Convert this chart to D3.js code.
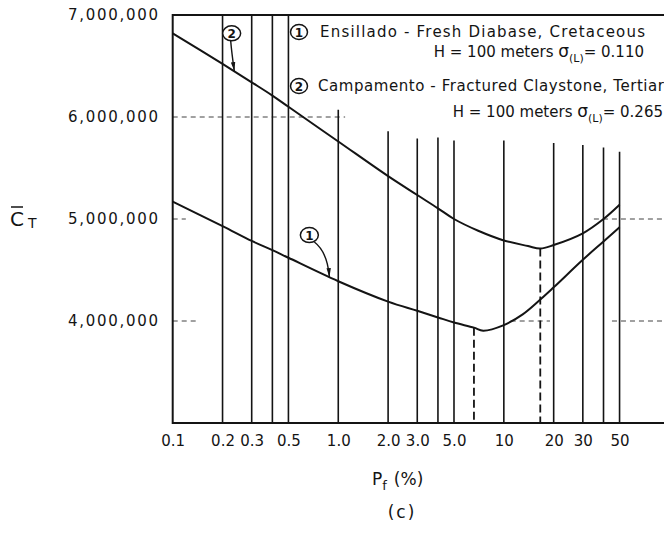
<!DOCTYPE html>
<html><head><meta charset="utf-8">
<script src="https://cdn.jsdelivr.net/npm/d3@7"></script>
<style>
html,body{margin:0;padding:0;background:#fff;}
svg{display:block;font-family:"DejaVu Sans",sans-serif;}
</style>
</head><body>
<svg id="c" width="664" height="535"></svg>
<script>
// ---- data ----
const xTicks = [0.1, 0.2, 0.3, 0.5, 1, 2, 3, 5, 10, 20, 30, 50];
const xTickLabels = ["0.1", "0.2", "0.3", "0.5", "1.0", "2.0", "3.0", "5.0", "10", "20", "30", "50"];
const yTicks = [4e6, 5e6, 6e6, 7e6];
const gridX = [0.2, 0.3, 0.4, 0.5, 1, 2, 3, 4, 5, 10, 20, 30, 40, 50];
const gridTop = [7e6, 7e6, 7e6, 7e6, 6.07e6, 5.86e6, 5.79e6, 5.80e6, 5.77e6, 5.77e6, 5.745e6, 5.725e6, 5.70e6, 5.66e6];

// Curve 1: Ensillado - Fresh Diabase
const pf1 = [0.1, 0.2, 0.3, 0.4, 0.5, 1, 2, 3, 4, 5, 6.6, 7.5, 10, 13, 16.6, 20, 30, 40, 50];
const ct1 = [5.17e6, 4.93e6, 4.785e6, 4.695e6, 4.62e6, 4.39e6, 4.19e6, 4.10e6, 4.035e6, 3.985e6, 3.935e6, 3.905e6, 3.96e6, 4.065e6, 4.21e6, 4.33e6, 4.60e6, 4.78e6, 4.92e6];
// Curve 2: Campamento - Fractured Claystone
const pf2 = [0.1, 0.2, 0.3, 0.4, 0.5, 1, 2, 3, 4, 5, 7, 10, 14, 16.6, 20, 30, 40, 50];
const ct2 = [6.82e6, 6.52e6, 6.34e6, 6.21e6, 6.10e6, 5.76e6, 5.42e6, 5.235e6, 5.105e6, 5.0e6, 4.885e6, 4.79e6, 4.735e6, 4.71e6, 4.745e6, 4.86e6, 5.0e6, 5.14e6];

// optimum markers (dashed verticals)
const optPf = [6.6, 16.6];
const optCt = [3.935e6, 4.71e6];

// faint horizontal reference dashes
const refY  = [6e6, 5e6, 5e6, 4e6, 4e6, 4e6];
const refX0 = [0.1, 0.1, 35, 0.1, 11, 45];
const refX1 = [1.1, 0.12, 100, 0.14, 19, 100];

// curve labels (circled numbers with leaders)
const annLabel = ["2", "1"];
const annCx = [0.227, 0.669];
const annCy = [6.82e6, 4.843e6];
const annTx = [0.2356, 0.884];
const annTy = [6.45e6, 4.43e6];

const legendLines = [
  "Ensillado - Fresh Diabase, Cretaceous",
  "Campamento - Fractured Claystone, Tertiar"
];
const legendSigma = ["0.110", "0.265"];

// ---- drawing ----
const svg = d3.select("#c");
const x = d3.scaleLog().domain([0.1, 100]).range([172.7, 669.4]);
const y = d3.scaleLinear().domain([3e6, 7e6]).range([423, 15]);
const ink = "#141414";

const defs = svg.append("defs");
defs.append("marker").attr("id", "arr").attr("viewBox", "0 -3 9 6")
  .attr("refX", 9).attr("refY", 0).attr("markerWidth", 9).attr("markerHeight", 6)
  .attr("markerUnits", "userSpaceOnUse").attr("orient", "auto")
  .append("path").attr("d", "M0,-2.2L9,0L0,2.2Z").attr("fill", ink);

// vertical grid lines
svg.append("g").selectAll("line").data(gridX).join("line")
  .attr("x1", d => x(d)).attr("x2", d => x(d))
  .attr("y1", (d, i) => y(gridTop[i])).attr("y2", y(3e6))
  .attr("stroke", ink).attr("stroke-width", 1.6);

// reference dashes
svg.append("g").selectAll("line").data(refY).join("line")
  .attr("x1", (d, i) => x(refX0[i])).attr("x2", (d, i) => Math.min(x(refX1[i]), 664))
  .attr("y1", d => y(d)).attr("y2", d => y(d))
  .attr("stroke", ink).attr("stroke-width", 1).attr("stroke-dasharray", "5,4").attr("opacity", 0.8);

// frame: left, top, bottom
const fr = svg.append("g").attr("stroke", ink).attr("stroke-width", 2).attr("fill", "none");
fr.append("line").attr("x1", x(0.1)).attr("x2", x(0.1)).attr("y1", y(7e6) - 1).attr("y2", y(3e6) + 1);
fr.append("line").attr("x1", x(0.1)).attr("x2", x(100)).attr("y1", y(7e6)).attr("y2", y(7e6));
fr.append("line").attr("x1", x(0.1)).attr("x2", x(100)).attr("y1", y(3e6)).attr("y2", y(3e6));

// curves
const line = d3.line().x(d => x(d[0])).y(d => y(d[1])).curve(d3.curveCatmullRom.alpha(0.5));
[[pf1, ct1], [pf2, ct2]].forEach(([px, py]) => {
  svg.append("path").datum(px.map((v, i) => [v, py[i]]))
    .attr("d", line).attr("fill", "none").attr("stroke", ink).attr("stroke-width", 2);
});

// dashed optimum lines
svg.append("g").selectAll("line").data(optPf).join("line")
  .attr("x1", d => x(d)).attr("x2", d => x(d))
  .attr("y1", (d, i) => y(optCt[i])).attr("y2", y(3e6))
  .attr("stroke", ink).attr("stroke-width", 1.8).attr("stroke-dasharray", "8,4");

// annotations
annLabel.forEach((lab, i) => {
  const cx = x(annCx[i]), cy = y(annCy[i]);
  const tx = x(annTx[i]), ty = y(annTy[i]);
  const sx = cx + (i === 0 ? -1 : 5), sy = cy + 7;
  const qx = i === 0 ? sx + 1 : tx - 2, qy = i === 0 ? sy + 12 : sy + 10;
  svg.append("path").attr("d", `M${sx},${sy}Q${qx},${qy} ${tx},${ty}`)
    .attr("fill", "none").attr("stroke", ink).attr("stroke-width", 1.4)
    .attr("marker-end", "url(#arr)");
  svg.append("ellipse").attr("cx", cx).attr("cy", cy).attr("rx", 9).attr("ry", 7.5)
    .attr("fill", "#fff").attr("stroke", ink).attr("stroke-width", 1.5);
  svg.append("text").attr("x", cx).attr("y", cy + 4.5).attr("text-anchor", "middle")
    .attr("font-size", 12).attr("font-weight", "bold").attr("fill", ink).text(lab);
});

// legend
const legBase = [37, 91];
legendLines.forEach((t, i) => {
  const b = legBase[i];
  svg.append("ellipse").attr("cx", 299).attr("cy", b - 5).attr("rx", 8.5).attr("ry", 7.5)
    .attr("fill", "#fff").attr("stroke", ink).attr("stroke-width", 1.5);
  svg.append("text").attr("x", 299).attr("y", b - 0.5).attr("text-anchor", "middle")
    .attr("font-size", 12).attr("font-weight", "bold").attr("fill", ink).text(String(i + 1));
  svg.append("text").attr("x", i === 0 ? 320 : 318).attr("y", b)
    .attr("font-size", 15).attr("fill", ink)
    .attr("textLength", i === 0 ? 325 : 346).attr("lengthAdjust", "spacing").text(t);
  const h = svg.append("text").attr("x", i === 0 ? 644 : 663).attr("y", b + (i === 0 ? 20 : 26))
    .attr("text-anchor", "end").attr("font-size", 15).attr("fill", ink);
  h.append("tspan").text("H = 100 meters  ");
  h.append("tspan").attr("font-size", 17).text("σ");
  h.append("tspan").attr("font-size", 11).attr("dy", 5).text("(L)");
  h.append("tspan").attr("dy", -5).text("= " + legendSigma[i]);
});

// x axis labels
const xa = svg.append("g").attr("transform", `translate(0,${y(3e6)})`)
  .call(d3.axisBottom(x).tickValues(xTicks).tickSize(0).tickPadding(12)
    .tickFormat((d, i) => xTickLabels[i]));
xa.select(".domain").remove();
xa.selectAll("text").attr("font-size", 15).attr("font-family", "DejaVu Sans, sans-serif").attr("fill", ink);

// y axis labels
const ya = svg.append("g").attr("transform", "translate(158,0)")
  .call(d3.axisLeft(y).tickValues(yTicks).tickSize(0).tickPadding(0).tickFormat(d3.format(",")));
ya.select(".domain").remove();
ya.selectAll("text").attr("font-size", 15).attr("font-family", "DejaVu Sans, sans-serif")
  .attr("fill", ink).attr("textLength", 90).attr("lengthAdjust", "spacing");

// axis titles
const yt = svg.append("g").attr("fill", ink);
yt.append("text").attr("x", 10).attr("y", 226).attr("font-size", 20).text("C");
yt.append("line").attr("x1", 11).attr("x2", 23).attr("y1", 207).attr("y2", 207)
  .attr("stroke", ink).attr("stroke-width", 1.5);
yt.append("text").attr("x", 28).attr("y", 228).attr("font-size", 14).text("T");

const xt = svg.append("text").attr("x", 372).attr("y", 485).attr("font-size", 17).attr("fill", ink);
xt.append("tspan").text("P");
xt.append("tspan").attr("font-size", 13).attr("dy", 5).text("f");
xt.append("tspan").attr("dy", -5).attr("dx", 7).text("(%)");

svg.append("text").attr("x", 402).attr("y", 518).attr("text-anchor", "middle")
  .attr("font-size", 17).attr("fill", ink).attr("letter-spacing", 2).text("(c)");
</script>
</body></html>
